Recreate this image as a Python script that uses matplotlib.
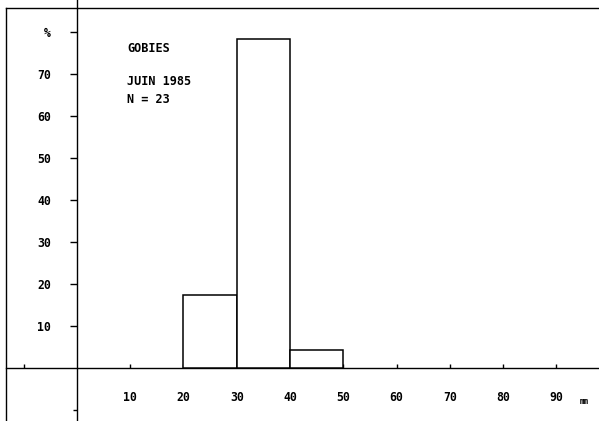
import numpy as np
import matplotlib
matplotlib.use("Agg")
import matplotlib.pyplot as plt
from matplotlib.lines import Line2D

# class edges (mm) and percentages
bin_left = [20, 30, 40]
bin_width = 10
percent = [17.4, 78.3, 4.3]

xticks = [10, 20, 30, 40, 50, 60, 70, 80, 90]
yticks = [10, 20, 30, 40, 50, 60, 70, 80]
ytick_labels = ["10", "20", "30", "40", "50", "60", "70", "%"]

font = {"family": "DejaVu Sans Mono", "weight": "bold", "size": 8.3}
font_txt = {"family": "DejaVu Sans Mono", "weight": "bold", "size": 8.5}

fig = plt.figure(figsize=(5.99, 4.21), dpi=100)
ax = fig.add_axes([0.01, 0, 0.99, 1])
ax.set_xlim(-13.3, 98.0)
ax.set_ylim(-12.6, 87.6)

ax.bar(bin_left, percent, width=bin_width, align="edge",
       facecolor="white", edgecolor="black", linewidth=1.1, zorder=3)

for s in ["top", "right"]:
    ax.spines[s].set_visible(False)
ax.spines["left"].set_position(("data", 0))
ax.spines["bottom"].set_position(("data", 0))
ax.spines["left"].set_linewidth(1.0)
ax.spines["bottom"].set_linewidth(1.0)

ax.set_xticks(xticks)
ax.set_xticklabels([str(v) for v in xticks], fontdict=font)
ax.set_xticks([-10], minor=True)
ax.tick_params(axis="x", which="both", direction="in", length=3, width=1, pad=21.5)
for lab in ax.get_xticklabels():
    lab.set_va("center")

ax.set_yticks(yticks)
ax.set_yticklabels(ytick_labels, fontdict=font)
ax.set_yticks([-10], minor=True)
ax.tick_params(axis="y", which="major", direction="out", length=5, width=1, pad=13.5)
ax.tick_params(axis="y", which="minor", direction="out", length=3, width=1)

ax.text(94.3, -7.9, "mm", fontdict={"family": "DejaVu Sans Mono", "weight": "bold", "size": 5.5},
        ha="left", va="center")

ax.text(9.4, 76.0, "GOBIES", fontdict=font_txt, ha="left", va="center")
ax.text(9.4, 68.1, "JUIN 1985", fontdict=font_txt, ha="left", va="center")
ax.text(9.4, 64.0, "N = 23", fontdict=font_txt, ha="left", va="center")

# scan frame: top and left border
fig.add_artist(Line2D([0.01, 1.0], [0.982, 0.982], transform=fig.transFigure, color="black", lw=1.0))
fig.add_artist(Line2D([0.01, 0.01], [0.0, 0.982], transform=fig.transFigure, color="black", lw=1.0))

fig.savefig("out.png", dpi=100)
